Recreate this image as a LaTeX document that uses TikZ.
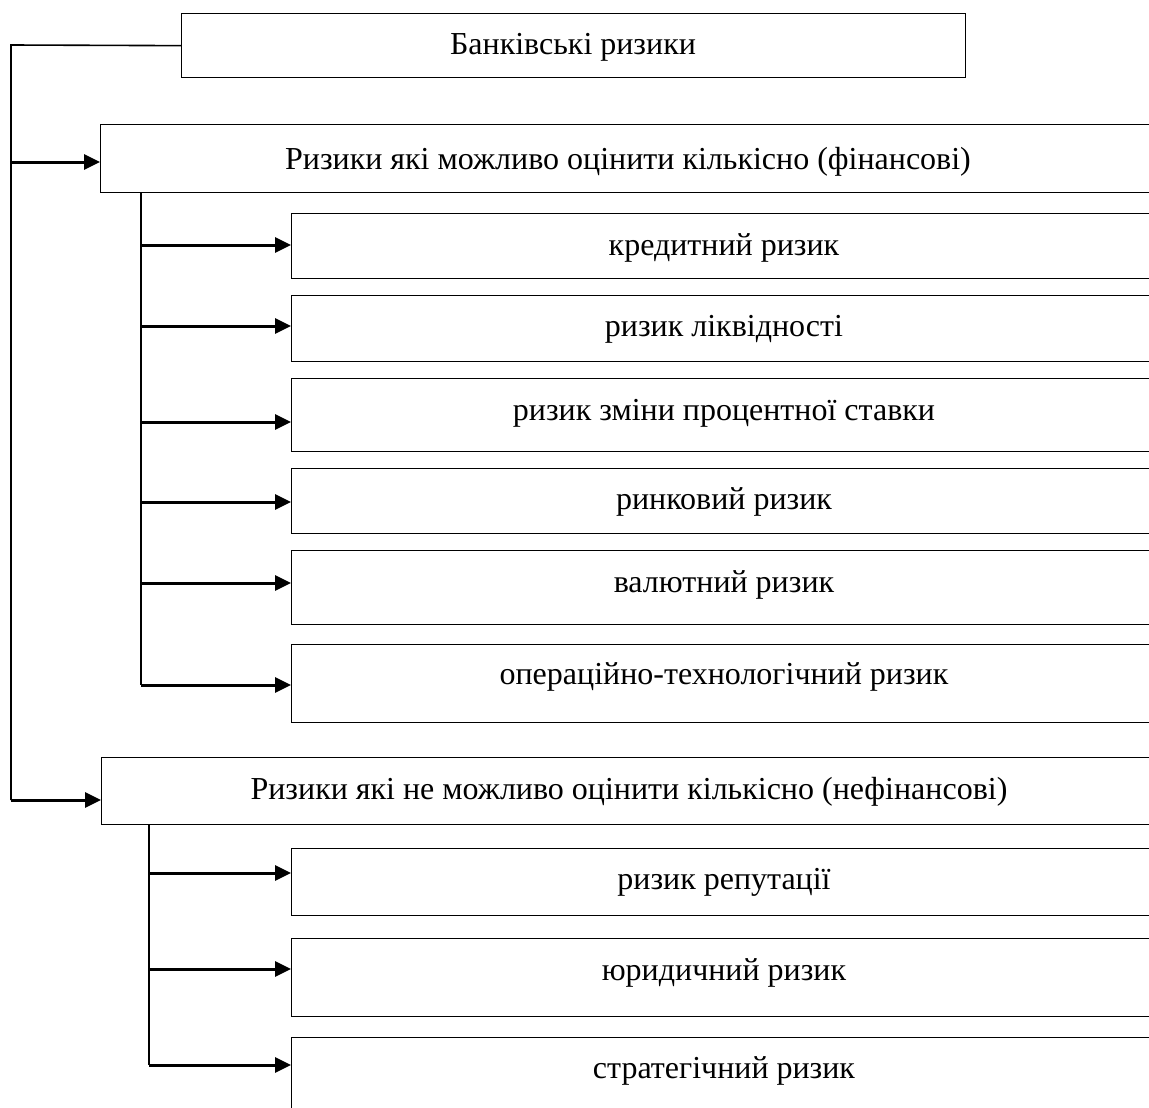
\documentclass[tikz,border=0pt]{standalone}
\usepackage{fontspec}
\setmainfont{Liberation Serif}
\usetikzlibrary{arrows.meta}
\begin{document}
\begin{tikzpicture}[x=1pt,y=-1pt,
  box/.style={draw, line width=1.3pt, rectangle, inner sep=0pt, anchor=north west},
  lbl/.style={anchor=base, inner sep=0pt, font=\fontsize{32}{38}\selectfont},
  wire/.style={line width=1.6pt},
  arr/.style={line width=3pt, -{Triangle[length=16pt,width=15pt]}}]
\useasboundingbox (0,0) rectangle (1149,1108);
\clip (0,0) rectangle (1149,1108);
\fill[white] (0,0) rectangle (1149,1108);
% boxes
\node[box, minimum width=784pt, minimum height=64pt] (top) at (181,13) {};
\node[box, minimum width=1057pt, minimum height=68pt] (fin) at (100,124) {};
\node[box, minimum width=866pt, minimum height=65pt] (s1) at (291,213) {};
\node[box, minimum width=866pt, minimum height=66pt] (s2) at (291,295) {};
\node[box, minimum width=866pt, minimum height=73pt] (s3) at (291,378) {};
\node[box, minimum width=866pt, minimum height=65pt] (s4) at (291,468) {};
\node[box, minimum width=866pt, minimum height=74pt] (s5) at (291,550) {};
\node[box, minimum width=866pt, minimum height=78pt] (s6) at (291,644) {};
\node[box, minimum width=1056pt, minimum height=67pt] (nfin) at (101,757) {};
\node[box, minimum width=866pt, minimum height=67pt] (n1) at (291,848) {};
\node[box, minimum width=866pt, minimum height=78pt] (n2) at (291,938) {};
\node[box, minimum width=866pt, minimum height=85pt] (n3) at (291,1037) {};
% labels
\node[lbl] (ttop) at (573,55) {Банківські ризики};
\node[lbl] (tfin) at (628,169) {Ризики які можливо оцінити кількісно (фінансові)};
\node[lbl] (t1) at (724,255) {кредитний ризик};
\node[lbl] (t2) at (724,336) {ризик ліквідності};
\node[lbl] (t3) at (724,420) {ризик зміни процентної ставки};
\node[lbl] (t4) at (724,509) {ринковий ризик};
\node[lbl] (t5) at (724,592) {валютний ризик};
\node[lbl] (t6) at (724,684) {операційно-технологічний ризик};
\node[lbl] (tnfin) at (629,799) {Ризики які не можливо оцінити кількісно (нефінансові)};
\node[lbl] (u1) at (724,889) {ризик репутації};
\node[lbl] (u2) at (724,980) {юридичний ризик};
\node[lbl] (u3) at (724,1078) {стратегічний ризик};
% main spine
\coordinate (m0) at (11,45);
\coordinate (m1) at (11,162);
\coordinate (m2) at (11,800);
\draw[wire] (top.west) -- (m0) -- (m2);
\draw[arr] (m1) -- (fin.west |- m1);
\draw[arr] (m2) -- (nfin.west |- m2);
% financial spine
\coordinate (f0) at (141,192);
\coordinate (f1) at (141,245);
\coordinate (f2) at (141,326);
\coordinate (f3) at (141,422);
\coordinate (f4) at (141,502);
\coordinate (f5) at (141,583);
\coordinate (f6) at (141,685);
\draw[wire] (f0) -- (f6);
\foreach \i in {1,...,6} {\draw[arr] (f\i) -- (s\i.west |- f\i);}
% non-financial spine
\coordinate (g0) at (149,824);
\coordinate (g1) at (149,873);
\coordinate (g2) at (149,969);
\coordinate (g3) at (149,1065);
\draw[wire] (g0) -- (g3);
\foreach \i in {1,2,3} {\draw[arr] (g\i) -- (n\i.west |- g\i);}
\end{tikzpicture}
\end{document}
